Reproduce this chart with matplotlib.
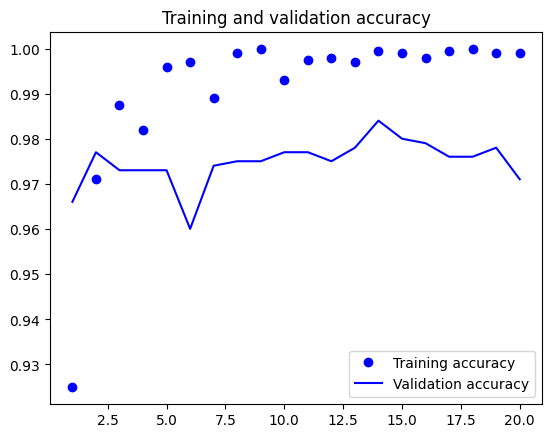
import matplotlib
matplotlib.use("Agg")
import matplotlib.pyplot as plt

epochs = list(range(1, 21))
train_acc = [0.925, 0.971, 0.9875, 0.982, 0.996, 0.997, 0.989, 0.999, 1.000, 0.993,
             0.9975, 0.998, 0.997, 0.9995, 0.999, 0.998, 0.9995, 1.000, 0.999, 0.999]
val_acc = [0.966, 0.977, 0.973, 0.973, 0.973, 0.960, 0.974, 0.975, 0.975, 0.977,
           0.977, 0.975, 0.978, 0.984, 0.980, 0.979, 0.976, 0.976, 0.978, 0.971]

fig = plt.figure(figsize=(5.56, 4.35), dpi=100)
ax = fig.add_axes([0.09, 0.07, 0.885, 0.855])
ax.plot(epochs, train_acc, 'bo', label='Training accuracy')
ax.plot(epochs, val_acc, 'b', label='Validation accuracy')
ax.set_title('Training and validation accuracy')
ax.legend(loc='lower right')
fig.savefig('out.png')
